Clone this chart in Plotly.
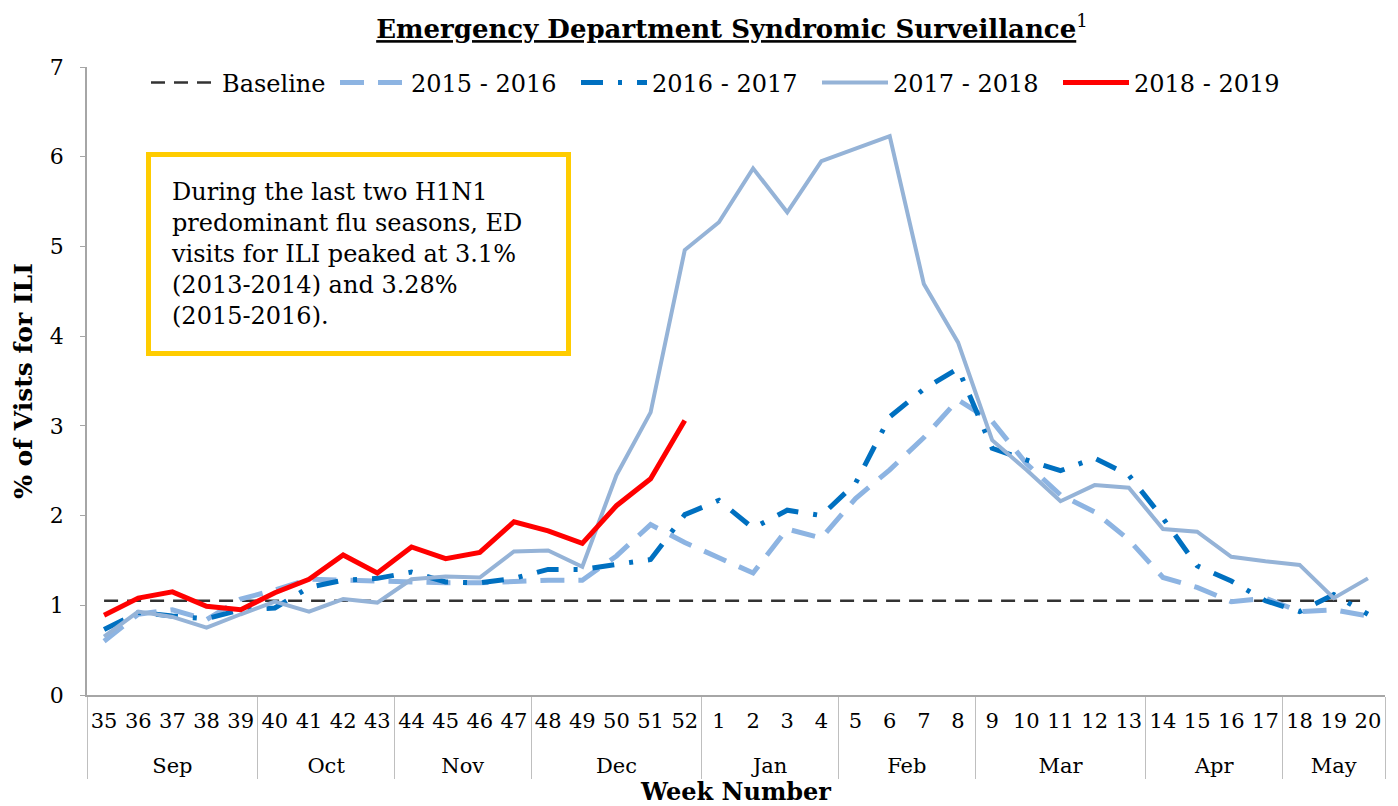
import plotly.graph_objects as go

weeks = ["35","36","37","38","39","40","41","42","43","44","45","46","47","48","49","50","51","52",
         "1","2","3","4","5","6","7","8","9","10","11","12","13","14","15","16","17","18","19","20"]
months = (["Sep"]*5 + ["Oct"]*4 + ["Nov"]*4 + ["Dec"]*5 + ["Jan"]*4 + ["Feb"]*4 +
          ["Mar"]*5 + ["Apr"]*4 + ["May"]*3)

baseline = [1.05]*38
s2015 = [0.60,0.90,0.95,0.84,1.07,1.17,1.29,1.28,1.27,1.25,1.25,1.25,1.27,1.28,1.28,1.55,1.90,1.70,
         1.53,1.36,1.85,1.75,2.19,2.51,2.87,3.29,3.05,2.58,2.23,2.04,1.73,1.31,1.20,1.04,1.08,0.93,0.95,0.88]
s2016 = [0.73,0.92,0.88,0.85,0.95,0.97,1.20,1.28,1.30,1.37,1.26,1.25,1.30,1.40,1.40,1.45,1.51,2.01,
         2.17,1.86,2.06,2.00,2.36,3.10,3.41,3.64,2.75,2.62,2.50,2.64,2.45,1.97,1.44,1.27,1.05,0.93,1.12,0.90]
s2017 = [0.65,0.93,0.87,0.75,0.90,1.04,0.93,1.07,1.03,1.29,1.32,1.31,1.60,1.61,1.43,2.45,3.15,4.96,
         5.27,5.87,5.38,5.95,6.09,6.23,4.58,3.93,2.84,2.51,2.16,2.34,2.31,1.85,1.82,1.54,1.49,1.45,1.08,1.30]
s2018 = [0.89,1.08,1.15,0.99,0.95,1.14,1.29,1.56,1.36,1.65,1.52,1.59,1.93,1.83,1.69,2.11,2.41,3.06]

FONT = "Georgia, 'DejaVu Serif', serif"
# week labels get a small empty second line so the month row sits lower, as in the reference
week_labels = [w + "<br><span style='font-size:12px'> </span>" for w in weeks]
x = [months, week_labels]
n18 = len(s2018)
x18 = [months[:n18], week_labels[:n18]]

fig = go.Figure()
fig.add_trace(go.Scatter(x=x, y=baseline, mode="lines", name="Baseline", legend="legend",
                         line=dict(color="#333333", width=2.5, dash="14px,9px")))
fig.add_trace(go.Scatter(x=x, y=s2015, mode="lines", name="2015 - 2016", legend="legend2",
                         line=dict(color="#8DB4E2", width=5, dash="24px,14px")))
fig.add_trace(go.Scatter(x=x, y=s2016, mode="lines", name="2016 - 2017", legend="legend2",
                         line=dict(color="#0070C0", width=5, dash="22px,15px,4px,15px")))
fig.add_trace(go.Scatter(x=x, y=s2017, mode="lines", name="2017 - 2018", legend="legend2",
                         line=dict(color="#95B3D7", width=4)))
fig.add_trace(go.Scatter(x=x18, y=s2018, mode="lines", name="2018 - 2019", legend="legend2",
                         line=dict(color="#FF0000", width=5)))

fig.update_layout(
    width=1398, height=806,
    margin=dict(l=79, r=21, t=59, b=119, autoexpand=False),
    paper_bgcolor="white", plot_bgcolor="white",
    font=dict(family=FONT, size=22, color="black"),
    title=dict(text="<b><u>Emergency Department Syndromic Surveillance</u></b><sup>1</sup>",
               x=724/1398, xanchor="center", y=1-21/806, yanchor="middle",
               font=dict(family=FONT, size=26, color="black")),
    showlegend=True,
    legend=dict(orientation="h", xref="container", yref="container",
                x=138/1398, xanchor="left", y=1-75/806, yanchor="middle",
                bgcolor="rgba(0,0,0,0)", font=dict(family=FONT, size=24), itemwidth=66),
    legend2=dict(orientation="h", xref="container", yref="container",
                 x=327/1398, xanchor="left", y=1-75/806, yanchor="middle",
                 bgcolor="rgba(0,0,0,0)", font=dict(family=FONT, size=24), itemwidth=66,
                 entrywidth=160),
)
fig.update_xaxes(type="multicategory", range=[-0.5, 37.5], automargin=False,
                 showline=True, linecolor="#A6A6A6", linewidth=1.5,
                 ticks="", showgrid=False, showdividers=True, dividercolor="#BFBFBF",
                 dividerwidth=1, tickangle=0, ticklabelstandoff=6,
                 tickfont=dict(family=FONT, size=21),
                 title=dict(text="<b>Week Number</b>", font=dict(family=FONT, size=24), standoff=6))
fig.update_yaxes(range=[0, 7], dtick=1, automargin=False, showline=True, linecolor="#A6A6A6",
                 linewidth=1.5, ticks="outside", ticklen=5, tickcolor="#A6A6A6", showgrid=False,
                 zeroline=False, ticklabelstandoff=12, tickfont=dict(family=FONT, size=22),
                 title=dict(text="<b>% of Vists for ILI</b>", font=dict(family=FONT, size=25), standoff=10))

fig.add_annotation(
    xref="paper", yref="paper", x=(146-87)/1298, y=(695-152)/628, xanchor="left", yanchor="top",
    text=("During the last two H1N1<br>predominant flu seasons, ED<br>visits for ILI peaked at 3.1%"
          "<br>(2013-2014) and 3.28%<br>(2015-2016)."),
    align="left", valign="middle", showarrow=False, width=375, height=154,
    bordercolor="#FFCC00", borderwidth=5, borderpad=20, bgcolor="white",
    font=dict(family=FONT, size=24, color="black"))

fig.write_html("out.html")
